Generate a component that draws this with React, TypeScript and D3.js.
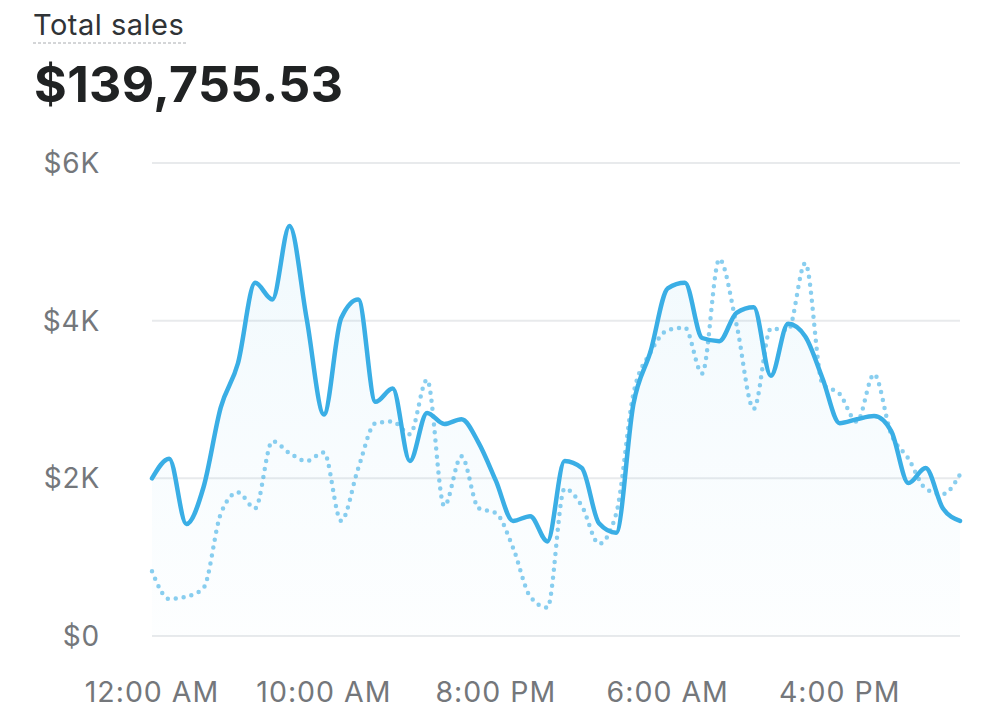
import React from 'react';
import * as d3 from 'd3';

// 48 hourly points, two days, starting 12:00 AM
const currentSales = [
  2000, 2250, 1420, 1890, 2900, 3460, 4480, 4270, 5200, 4020,
  2810, 4030, 4270, 2970, 3140, 2220, 2830, 2690, 2750, 2450,
  1970, 1460, 1520, 1200, 2220, 2130, 1430, 1310, 2940, 3610,
  4410, 4480, 3780, 3740, 4100, 4170, 3300, 3960, 3800, 3270,
  2700, 2750, 2790, 2600, 1940, 2130, 1620, 1460,
];

const previousSales = [
  820, 470, 500, 610, 1550, 1820, 1620, 2470, 2320, 2220,
  2330, 1460, 2130, 2700, 2720, 2560, 3250, 1650, 2280, 1620,
  1560, 1120, 500, 360, 1870, 1650, 1170, 1550, 3070, 3600,
  3880, 3910, 3330, 4780, 3950, 2880, 3900, 3880, 4730, 3200,
  3070, 2720, 3320, 2560, 2250, 1870, 1800, 2050,
];

const xTickHours = [0, 10, 20, 30, 40];
const xTickLabels = ['12:00 AM', '10:00 AM', '8:00 PM', '6:00 AM', '4:00 PM'];
const yTicks = [0, 2000, 4000, 6000];

const title = 'Total sales';
const total = '$139,755.53';

const W = 1000;
const H = 720;
const FONT = 'Inter, "Noto Sans", sans-serif';
const BLUE = '#3aaee5';

export default function App() {
  const x = d3.scaleLinear().domain([0, currentSales.length - 1]).range([152, 960]);
  const y = d3.scaleLinear().domain([0, 6000]).range([636, 163]);

  const line = d3
    .line<number>()
    .x((_, i) => x(i))
    .y((d) => y(d))
    .curve(d3.curveMonotoneX);

  const area = d3
    .area<number>()
    .x((_, i) => x(i))
    .y0(y(0))
    .y1((d) => y(d))
    .curve(d3.curveMonotoneX);

  const fmtY = (v: number) => (v === 0 ? '$0' : `$${v / 1000}K`);

  return (
    <svg
      width={W}
      height={H}
      style={{ position: 'absolute', left: 0, top: 0, background: '#fff' }}
      fontFamily={FONT}
    >
      <defs>
        <linearGradient id="fillGrad" x1="0" y1="0" x2="0" y2="1">
          <stop offset="0%" stopColor={BLUE} stopOpacity={0.07} />
          <stop offset="100%" stopColor={BLUE} stopOpacity={0.01} />
        </linearGradient>
      </defs>

      {/* header */}
      <text x={33} y={35} fontSize={29} letterSpacing={0.5} fill="#303336">
        {title}
      </text>
      <line x1={33} x2={186} y1={43} y2={43} stroke="#a9acb0" strokeWidth={1} strokeDasharray="3 2" />
      <text x={34} y={102} fontSize={50} fontWeight={700} letterSpacing={0.4} fill="#202223">
        {total}
      </text>

      {/* grid + y labels */}
      {yTicks.map((t) => (
        <g key={t}>
          <line x1={152} x2={960} y1={y(t)} y2={y(t)} stroke="#e8eaec" strokeWidth={2} />
          <text x={100} y={y(t)} dy="0.36em" textAnchor="end" fontSize={28} letterSpacing={0.8} fill="#74777b">
            {fmtY(t)}
          </text>
        </g>
      ))}

      {/* x labels */}
      {xTickHours.map((h, i) => (
        <text key={h} x={x(h)} y={702} textAnchor="middle" fontSize={28.5} letterSpacing={1} fill="#74777b">
          {xTickLabels[i]}
        </text>
      ))}

      <path d={area(currentSales) ?? ''} fill="url(#fillGrad)" />
      <path
        d={line(previousSales) ?? ''}
        fill="none"
        stroke={BLUE}
        strokeOpacity={0.6}
        strokeWidth={4.5}
        strokeLinecap="round"
        strokeDasharray="0 8"
      />
      <path
        d={line(currentSales) ?? ''}
        fill="none"
        stroke={BLUE}
        strokeWidth={4.5}
        strokeLinejoin="round"
        strokeLinecap="round"
      />
    </svg>
  );
}
